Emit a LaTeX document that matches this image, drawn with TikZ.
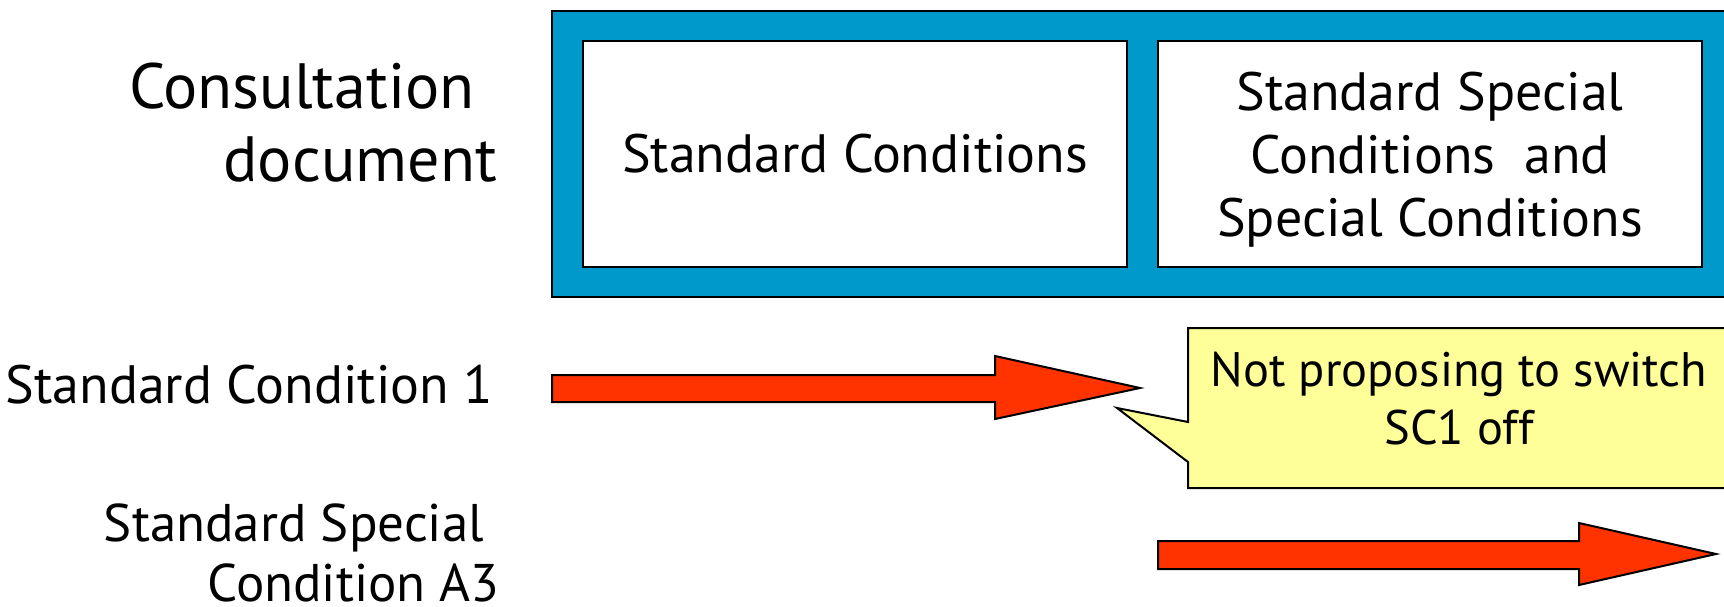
\documentclass[tikz,border=0pt]{standalone}
\usepackage{fontspec}
\setmainfont{PT Sans}
\definecolor{frameblue}{RGB}{0,153,204}
\definecolor{arrowred}{RGB}{255,51,0}
\definecolor{noteyellow}{RGB}{255,255,153}
\begin{document}
\begin{tikzpicture}[x=1pt,y=-1pt,
  panel/.style={draw=black,line width=2pt,fill=white,inner sep=0pt,align=center,
    font=\fontsize{54}{63}\selectfont},
  blockarrow/.style={draw=black,line width=2pt,fill=arrowred,line join=miter},
  lbl/.style={inner sep=0pt,align=right,font=\fontsize{54}{60}\selectfont},
  note/.style={draw=black,line width=2pt,fill=noteyellow,line join=miter}]
\useasboundingbox (0,0) rectangle (1724,607);
\clip (0,0) rectangle (1724,607);
% outer blue frame
\draw[line width=2pt,fill=frameblue] (552,11) rectangle (1760,297);
% panels
\node[panel,minimum width=544pt,minimum height=226pt] (sc) at (855,154) {Standard Conditions};
\node[panel,minimum width=544pt,minimum height=226pt,text depth=0pt] (ssc) at (1430,154)
  {Standard Special\\Conditions\ \ and\\Special Conditions};
% left labels (base = last line)
\node[lbl,anchor=base east,font=\fontsize{64}{73}\selectfont] (cd) at (497,181)
  {Consultation\hspace*{0.35em}\\document};
\node[lbl,anchor=base east] (sc1) at (493,403) {Standard Condition 1};
\node[lbl,anchor=base east,text depth=0pt,font=\fontsize{53}{60}\selectfont] (ssca3) at (500,601)
  {Standard Special\hspace*{0.3em}\\Condition A3};
% arrow 1
\draw[blockarrow] (552,375) -- (995,375) -- (995,356) -- (1140,388) -- (995,419)
  -- (995,402) -- (552,402) -- cycle;
% arrow 2
\draw[blockarrow] (1158,541) -- (1579,541) -- (1579,523) -- (1716,554) -- (1579,585)
  -- (1579,569) -- (1158,569) -- cycle;
% callout
\coordinate (tip) at (1117,408);
\draw[note] (1188,328) -- (1740,328) -- (1740,488) -- (1188,488) -- (1188,462)
  -- (tip) -- (1188,422) -- cycle;
\node[inner sep=0pt,align=center,anchor=base,font=\fontsize{48.5}{58}\selectfont] (nt) at (1459,444)
  {Not proposing to switch\\SC1 off};
\end{tikzpicture}
\end{document}
